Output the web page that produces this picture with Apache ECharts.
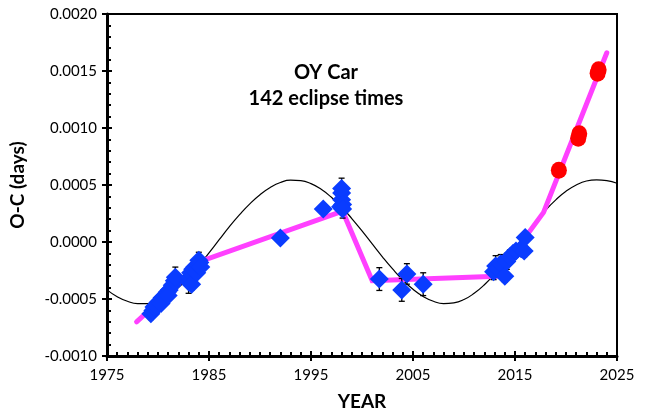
<!DOCTYPE html>
<html>
<head>
<meta charset="utf-8">
<script src="https://cdn.jsdelivr.net/npm/echarts@6/dist/echarts.min.js"></script>
<style>
  html, body { margin: 0; padding: 0; background: #fff; }
  #chart { width: 647px; height: 412px; }
</style>
</head>
<body>
<div id="chart"></div>
<script>
// O-C timings of OY Car: [year, O-C (days), error (days)]
const ocTimings = [
  [1979.3, -0.00063, 0.00005], [1979.5, -0.00060, 0.00005], [1979.6, -0.00057, 0.00004],
  [1979.8, -0.00056, 0.00004], [1980.0, -0.00053, 0.00004], [1980.2, -0.00052, 0.00004],
  [1980.4, -0.00049, 0.00004], [1980.6, -0.00048, 0.00004], [1980.9, -0.00044, 0.00004],
  [1981.1, -0.00042, 0.00005], [1981.4, -0.00038, 0.00005], [1981.6, -0.00034, 0.00005],
  [1981.7, -0.00031, 0.00009], [1980.3, -0.00054, 0.00004], [1981.0, -0.00047, 0.00004],
  [1983.0, -0.00035, 0.00010], [1983.1, -0.00031, 0.00006], [1983.2, -0.00027, 0.00005],
  [1983.3, -0.00037, 0.00005], [1983.4, -0.00024, 0.00005], [1983.6, -0.00022, 0.00004],
  [1983.8, -0.00027, 0.00004], [1983.9, -0.00020, 0.00005], [1984.0, -0.00016, 0.00004],
  [1984.1, -0.00018, 0.00004], [1984.2, -0.00022, 0.00004],
  [1992.0, 0.000035, 0.00002],
  [1996.2, 0.00029, 0.00002],
  [1997.9, 0.00031, 0.00005], [1998.0, 0.00037, 0.00005], [1998.0, 0.00043, 0.00005],
  [1998.0, 0.00047, 0.00009], [1998.1, 0.00033, 0.00005], [1998.1, 0.00029, 0.00008],
  [2001.7, -0.000325, 0.00010], [2003.9, -0.00042, 0.00010],
  [2004.4, -0.00028, 0.00009], [2006.0, -0.00037, 0.00010],
  [2012.9, -0.00026, 0.00007], [2013.1, -0.00021, 0.00009], [2013.3, -0.00023, 0.00006],
  [2013.6, -0.00019, 0.00008], [2014.0, -0.00030, 0.00005], [2014.2, -0.00017, 0.00007],
  [2014.5, -0.00013, 0.00006], [2014.8, -0.00010, 0.00005], [2015.1, -0.00008, 0.00005],
  [2015.6, -0.00006, 0.00005], [2015.9, -0.00008, 0.00005], [2016.0, 0.00004, 0.00004]
];

// Black error bar without a visible marker
const blackTimings = [
  [1984.0, -0.00013, 0.00004]
];

// Recent timings
const recentTimings = [
  [2019.3, 0.00063], [2021.2, 0.00091], [2021.3, 0.00095],
  [2023.1, 0.00148], [2023.2, 0.00151]
];

// Piecewise trend
const trendLine = [
  [1977.9, -0.00070], [1984.5, -0.00016], [1998.1, 0.00027], [2001.0, -0.00034],
  [2013.2, -0.00030], [2017.8, 0.00026], [2024.0, 0.00166]
];

// Periodic model curve, one value per year
const modelYears = [];
for (let y = 1975; y <= 2025; y++) modelYears.push(y);
const modelValues = [
  -0.000420, -0.000480, -0.000520, -0.000540, -0.000540, -0.000515, -0.000467, -0.000400,
  -0.000315, -0.000210, -0.000095, 0.000020, 0.000135, 0.000240, 0.000335, 0.000415,
  0.000478, 0.000522, 0.000542, 0.000538, 0.000512, 0.000462, 0.000392, 0.000306,
  0.000206, 0.000097, -0.000017, -0.000130, -0.000236, -0.000333, -0.000415, -0.000478,
  -0.000520, -0.000540, -0.000534, -0.000505, -0.000450, -0.000375, -0.000280, -0.000172,
  -0.000058, 0.000060, 0.000175, 0.000280, 0.000370, 0.000445, 0.000500, 0.000535,
  0.000545, 0.000538, 0.000515
];

const xTickLabels = ['1975', '1985', '1995', '2005', '2015', '2025'];
const yTickLabels = ['-0.0010', '-0.0005', '0.0000', '0.0005', '0.0010', '0.0015', '0.0020'];

const FONT = 'Lato, "Open Sans", sans-serif';

function errorBarItem(params, api) {
  const x = api.value(0), y = api.value(1), e = api.value(2);
  const top = api.coord([x, y + e]);
  const bot = api.coord([x, y - e]);
  const cap = 3;
  const style = { stroke: '#000', lineWidth: 1.3 };
  return {
    type: 'group',
    children: [
      { type: 'line', shape: { x1: top[0], y1: top[1], x2: bot[0], y2: bot[1] }, style },
      { type: 'line', shape: { x1: top[0] - cap, y1: top[1], x2: top[0] + cap, y2: top[1] }, style },
      { type: 'line', shape: { x1: bot[0] - cap, y1: bot[1], x2: bot[0] + cap, y2: bot[1] }, style }
    ]
  };
}

const chart = echarts.init(document.getElementById('chart'), null, { renderer: 'canvas' });

const xBase = { type: 'value', min: 1975, max: 2025, interval: 10 };
const yBase = { type: 'value', min: -0.0010, max: 0.0020, interval: 0.0005 };

chart.setOption({
  animation: false,
  backgroundColor: '#fff',
  grid: {
    left: 107, right: 30, top: 14, bottom: 56,
    outerBoundsMode: 'none', containLabel: false,
    show: true, borderColor: '#000', borderWidth: 2, backgroundColor: 'transparent'
  },
  xAxis: [
    Object.assign({}, xBase, {
      position: 'bottom',
      name: 'YEAR', nameLocation: 'middle', nameGap: 36,
      nameTextStyle: { fontFamily: FONT, fontWeight: 'bold', fontSize: 19, color: '#000' },
      axisLine: { show: true, onZero: false, lineStyle: { color: '#000', width: 3 } },
      axisTick: { show: true, inside: true, length: 5, lineStyle: { color: '#000', width: 2 } },
      minorTick: { show: true, splitNumber: 10, length: 4, lineStyle: { color: '#000', width: 2 } },
      axisLabel: {
        fontFamily: FONT, fontSize: 15, color: '#000', margin: 12,
        formatter: v => xTickLabels[Math.round((v - 1975) / 10)] || ''
      },
      splitLine: { show: false }
    }),
    Object.assign({}, xBase, {
      position: 'bottom', gridIndex: 0,
      axisLine: { show: false, onZero: false },
      axisTick: { show: true, inside: false, length: 5, lineStyle: { color: '#000', width: 2 } },
      axisLabel: { show: false },
      splitLine: { show: false }
    })
  ],
  yAxis: [
    Object.assign({}, yBase, {
      position: 'left',
      name: 'O-C (days)', nameLocation: 'middle', nameGap: 80, nameRotate: 90,
      nameTextStyle: { fontFamily: FONT, fontWeight: 'bold', fontSize: 19, color: '#000' },
      axisLine: { show: true, onZero: false, lineStyle: { color: '#000', width: 3 } },
      axisTick: { show: true, inside: true, length: 5, lineStyle: { color: '#000', width: 2 } },
      minorTick: { show: true, splitNumber: 5, length: 4, lineStyle: { color: '#000', width: 2 } },
      axisLabel: {
        fontFamily: FONT, fontSize: 15, color: '#000', margin: 10,
        formatter: v => yTickLabels[Math.round((v + 0.0010) / 0.0005)] || ''
      },
      splitLine: { show: false }
    }),
    Object.assign({}, yBase, {
      position: 'left', gridIndex: 0,
      axisLine: { show: false, onZero: false },
      axisTick: { show: true, inside: false, length: 5, lineStyle: { color: '#000', width: 2 } },
      axisLabel: { show: false },
      splitLine: { show: false }
    })
  ],
  graphic: [
    {
      type: 'text', z: 100, x: 326, y: 60,
      style: {
        text: 'OY Car\n142 eclipse times', textAlign: 'center', lineHeight: 26,
        font: 'bold 20px ' + FONT, fill: '#000'
      }
    }
  ],
  series: [
    {
      name: 'model', type: 'line', smooth: true, symbol: 'none', z: 1,
      data: modelYears.map((y, i) => [y, modelValues[i]]),
      lineStyle: { color: '#000', width: 1.2 }
    },
    {
      name: 'trend', type: 'line', symbol: 'none', z: 2,
      data: trendLine,
      lineStyle: { color: '#ff40ff', width: 5, cap: 'round', join: 'miter' }
    },
    {
      name: 'errors', type: 'custom', z: 3,
      renderItem: errorBarItem,
      data: ocTimings.concat(blackTimings)
    },
    {
      name: 'timings', type: 'scatter', z: 4,
      symbol: 'diamond', symbolSize: [19, 19],
      itemStyle: { color: '#0a3cff', opacity: 1 },
      data: ocTimings.map(d => [d[0], d[1]])
    },
    {
      name: 'recent', type: 'scatter', z: 5,
      symbol: 'circle', symbolSize: [16, 17],
      itemStyle: { color: '#ff0000', opacity: 1 },
      data: recentTimings
    }
  ]
});
</script>
</body>
</html>
